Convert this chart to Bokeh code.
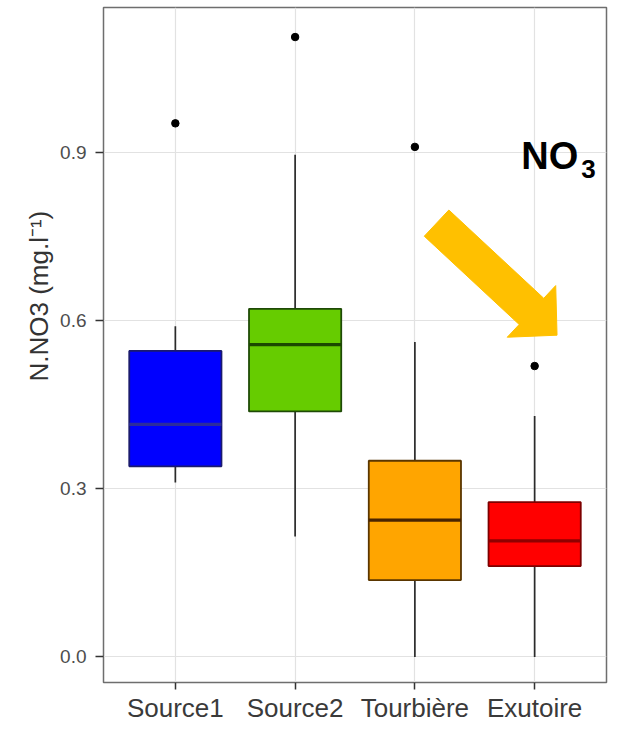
import math
from bokeh.plotting import figure
from bokeh.models import FactorRange, Range1d, ColumnDataSource, Title, FixedTicker, NumeralTickFormatter
from bokeh.transform import dodge
from bokeh.core.properties import value
from bokeh.embed import file_html
from bokeh.resources import INLINE

# ---------------- data ----------------
categories = ["Source1", "Source2", "Tourbière", "Exutoire"]
q1 = [0.340, 0.438, 0.137, 0.162]
median = [0.415, 0.557, 0.244, 0.207]
q3 = [0.546, 0.621, 0.350, 0.276]
whisker_low = [0.311, 0.215, 0.0, 0.0]
whisker_high = [0.590, 0.896, 0.562, 0.430]
outlier_cat = ["Source1", "Source2", "Tourbière", "Exutoire"]
outlier_val = [0.952, 1.106, 0.910, 0.519]
y_ticks = [0.0, 0.3, 0.6, 0.9]

fill_colors = ["#0000FF", "#66CC00", "#FFA500", "#FF0000"]
edge_colors = ["#1a1a6e", "#1e4a06", "#5a3600", "#7d0000"]
median_colors = ["#2c2c9c", "#1c4800", "#4a2400", "#8f0000"]

# ---------------- layout ----------------
LEFT, RIGHT, TOP, BOTTOM = 103, 2, 7, 40
WIDTH, HEIGHT = 608, 725
FRAME_W = WIDTH - LEFT - RIGHT
FRAME_H = HEIGHT - TOP - BOTTOM
X_PAD = 0.1
X_START, X_END = -X_PAD, len(categories) + X_PAD
Y_START, Y_END = -0.0457, 1.1587
FONT = "Liberation Sans"

p = figure(
    x_range=FactorRange(*categories, range_padding=X_PAD, range_padding_units="absolute"),
    y_range=Range1d(Y_START, Y_END),
    width=WIDTH, height=HEIGHT,
    min_border_left=LEFT, min_border_right=RIGHT, min_border_top=TOP, min_border_bottom=BOTTOM,
    output_backend="svg", toolbar_location=None,
)
p.background_fill_color = "white"
p.border_fill_color = "white"
p.outline_line_color = "#6e6e6e"
p.outline_line_width = 1.5

p.xgrid.grid_line_color = "#e2e2e2"
p.xgrid.grid_line_width = 1.2
p.ygrid.grid_line_color = "#e2e2e2"
p.ygrid.grid_line_width = 1.2
p.ygrid.ticker = FixedTicker(ticks=y_ticks, minor_ticks=[])

p.yaxis.ticker = FixedTicker(ticks=y_ticks, minor_ticks=[])
p.yaxis.formatter = NumeralTickFormatter(format="0.0")
p.yaxis.axis_line_color = None
p.yaxis.major_tick_in = 0
p.yaxis.major_tick_out = 8
p.yaxis.major_tick_line_color = "#333333"
p.yaxis.major_tick_line_width = 1.5
p.yaxis.minor_tick_line_color = None
p.yaxis.major_label_standoff = 9
p.yaxis.major_label_text_font = FONT
p.yaxis.major_label_text_font_size = "19px"
p.yaxis.major_label_text_color = "#4d4d4d"

p.xaxis.axis_line_color = None
p.xaxis.major_tick_in = 0
p.xaxis.major_tick_out = 7
p.xaxis.major_tick_line_color = "#333333"
p.xaxis.major_tick_line_width = 1.5
p.xaxis.major_label_standoff = 3
p.xaxis.major_label_text_font = FONT
p.xaxis.major_label_text_font_size = "26px"
p.xaxis.major_label_text_color = "#3a3a3a"

# ---------------- boxes ----------------
src = ColumnDataSource(dict(
    cat=categories, q1=q1, median=median, q3=q3,
    lo=whisker_low, hi=whisker_high,
    fill=fill_colors, edge=edge_colors, mcol=median_colors,
))
BOX_W = 0.77
p.segment(x0="cat", y0="q3", x1="cat", y1="hi", source=src, line_color="#2b2b2b", line_width=1.7)
p.segment(x0="cat", y0="q1", x1="cat", y1="lo", source=src, line_color="#2b2b2b", line_width=1.7)
p.vbar(x="cat", bottom="q1", top="q3", width=BOX_W, source=src,
       fill_color="fill", line_color="edge", line_width=1.8)
p.segment(x0=dodge("cat", -BOX_W / 2, range=p.x_range), y0="median",
          x1=dodge("cat", BOX_W / 2, range=p.x_range), y1="median",
          source=src, line_color="mcol", line_width=3.2)
p.scatter(x=outlier_cat, y=outlier_val, size=7.5, color="black")

# ---------------- arrow annotation ----------------
arrow_tail = (2.681, 0.774)
arrow_tip = (3.687, 0.574)
shaft_w, head_w, head_len = 36.0, 71.0, 35.0  # pixels
kx = FRAME_W / (X_END - X_START)
ky = FRAME_H / (Y_END - Y_START)
tx, ty = arrow_tail[0] * kx, arrow_tail[1] * ky
hx, hy = arrow_tip[0] * kx, arrow_tip[1] * ky
L = math.hypot(hx - tx, hy - ty)
ux, uy = (hx - tx) / L, (hy - ty) / L
nx, ny = -uy, ux
bx, by = hx - ux * head_len, hy - uy * head_len
pts = [
    (tx + nx * shaft_w / 2, ty + ny * shaft_w / 2),
    (bx + nx * shaft_w / 2, by + ny * shaft_w / 2),
    (bx + nx * head_w / 2, by + ny * head_w / 2),
    (hx, hy),
    (bx - nx * head_w / 2, by - ny * head_w / 2),
    (bx - nx * shaft_w / 2, by - ny * shaft_w / 2),
    (tx - nx * shaft_w / 2, ty - ny * shaft_w / 2),
]
p.patch([q[0] / kx for q in pts], [q[1] / ky for q in pts],
        fill_color="#FFC000", line_color="#FFC000", line_width=1)

# ---------------- NO3 label ----------------
no_pos = (3.388, 0.8935)
sub_pos = (3.890, 0.8700)
p.text(x=[no_pos[0]], y=[no_pos[1]], text=["NO"], text_font=value(FONT),
       text_font_style="bold", text_font_size="38px", text_color="black",
       text_align="left", text_baseline="alphabetic")
p.text(x=[sub_pos[0]], y=[sub_pos[1]], text=["3"], text_font=value(FONT),
       text_font_style="bold", text_font_size="26px", text_color="black",
       text_align="left", text_baseline="alphabetic")

# ---------------- y-axis title ----------------
p.add_layout(Title(text="N.NO3 (mg.l\u207b\u00b9)", align="left", offset=301, standoff=8,
                   text_font=FONT, text_font_size="26px", text_font_style="normal",
                   text_color="#333333"), "left")

open("out.html", "w").write(file_html(p, INLINE))
